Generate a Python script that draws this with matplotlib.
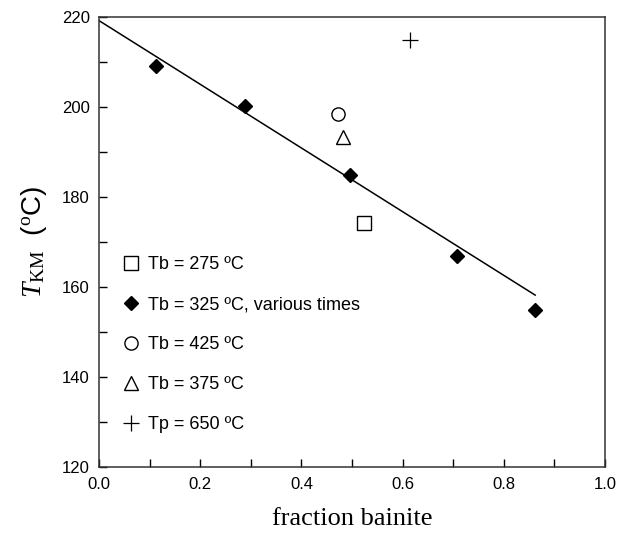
import numpy as np
from matplotlib import pyplot as plt
from matplotlib.ticker import MultipleLocator

plt.rcParams['font.family'] = ['Liberation Sans', 'DejaVu Sans']
plt.rcParams['mathtext.fontset'] = 'custom'
plt.rcParams['mathtext.rm'] = 'Liberation Serif'
plt.rcParams['mathtext.it'] = 'Liberation Serif:italic'

# data
tb275_x = [0.524]
tb275_y = [174.2]
tb325_x = [0.112, 0.288, 0.497, 0.707, 0.862]
tb325_y = [209.2, 200.2, 184.9, 167.0, 155.0]
tb425_x = [0.473]
tb425_y = [198.4]
tb375_x = [0.483]
tb375_y = [193.3]
tp650_x = [0.615]
tp650_y = [214.9]
# linear fit line
fit_x = [0.0, 0.862]
fit_y = [219.2, 158.2]

labels = ['Tb = 275 ºC', 'Tb = 325 ºC, various times', 'Tb = 425 ºC',
          'Tb = 375 ºC', 'Tp = 650 ºC']

fig = plt.figure(figsize=(6.3, 5.33), dpi=100)
ax = fig.add_axes([99/630, 1-467/533, 506/630, 450/533])

ax.plot(fit_x, fit_y, color='black', lw=1.1)
h1, = ax.plot(tb275_x, tb275_y, 's', ms=10, mfc='white', mec='black', mew=1.0, ls='none')
h2, = ax.plot(tb325_x, tb325_y, 'D', ms=7.5, mfc='black', mec='black', ls='none')
h3, = ax.plot(tb425_x, tb425_y, 'o', ms=9.5, mfc='white', mec='black', mew=1.0, ls='none')
h4, = ax.plot(tb375_x, tb375_y, '^', ms=10, mfc='white', mec='black', mew=1.0, ls='none')
h5, = ax.plot(tp650_x, tp650_y, '+', ms=12, mec='black', mew=0.9, ls='none')

ax.legend([h1, h2, h3, h4, h5], labels, loc='upper left',
          bbox_to_anchor=(0.045, 0.469), frameon=False, fontsize=13,
          handlelength=1.0, handletextpad=0.45, labelspacing=1.28,
          borderpad=0, borderaxespad=0)

ax.set_xlim(0, 1.0)
ax.set_ylim(120, 220)
ax.xaxis.set_major_locator(MultipleLocator(0.2))
ax.xaxis.set_minor_locator(MultipleLocator(0.1))
ax.yaxis.set_major_locator(MultipleLocator(20))
ax.yaxis.set_minor_locator(MultipleLocator(10))
ax.xaxis.set_major_formatter(plt.FormatStrFormatter('%.1f'))
ax.tick_params(which='both', direction='in', top=False, right=False,
               labelsize=12, width=1)
ax.tick_params(which='both', length=6)
ax.tick_params(axis='x', pad=7)
ax.tick_params(axis='y', pad=6.5)
for s in ax.spines.values():
    s.set_linewidth(1.1)
    s.set_color('#333333')

ax.set_xlabel('fraction bainite', family='Liberation Serif', fontsize=19, labelpad=12)
ax.set_ylabel(r'$T_{\rm KM}$  ($^{\rm o}$C)', fontsize=20, labelpad=9)

fig.savefig('out.png', dpi=100)
